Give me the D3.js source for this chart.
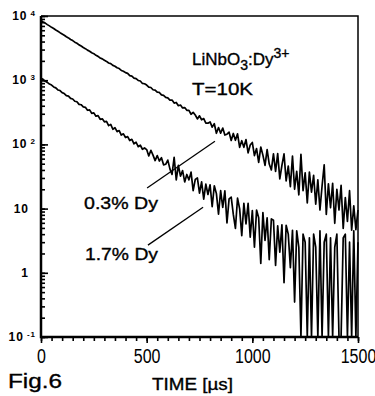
<!DOCTYPE html>
<html>
<head>
<meta charset="utf-8">
<script src="https://cdn.jsdelivr.net/npm/d3@7"></script>
<style>
  body { margin: 0; background: #fff; }
  text { font-family: Arial, "Liberation Sans", sans-serif; fill: #000; }
</style>
</head>
<body>
<svg id="chart" width="375" height="396"></svg>
<script>
// channel width of the decay curves, µs
const timeStep = 10;

// luminescence decay, counts per channel
const dy03 = [
  8510, 8090, 7750, 7340, 7020, 6660, 6390, 6050, 5790, 5500,
  5250, 5010, 4750, 4560, 4310, 4140, 3910, 3760, 3550, 3410,
  3230, 3100, 2940, 2830, 2680, 2590, 2440, 2350, 2220, 2150,
  2040, 1960, 1850, 1810, 1700, 1650, 1560, 1520, 1420, 1380,
  1310, 1280, 1180, 1160, 1080, 1060, 990, 970, 890, 880,
  840, 780, 770, 710, 700, 650, 645, 590, 580, 540,
  530, 490, 490, 440, 450, 400, 410, 370, 375, 340,
  339, 295, 315, 287, 249, 279, 242, 253, 215, 214,
  224, 186, 210, 149, 183, 150, 180, 140, 144, 155,
  115, 148, 116, 146, 90, 114, 90, 119, 74, 98,
  107, 67, 86, 52.5, 91, 68, 47, 83, 49.5, 40,
  71, 38, 72, 29, 47, 71, 27, 46, 22, 66,
  20, 38, 16.4, 70, 19, 36, 12.3, 37, 18, 33,
  11.7, 28, 9.5, 22.5, 48, 8.1, 24.4, 10.3, 24.7, 5.9,
  20, 9.5, 23, 4.9, 14.8, 6.3, 19, 4.6, 11, 4.7,
  9.5
];
const dy17 = [
  1070, 1030, 960, 925, 870, 840, 785, 760, 705, 690,
  640, 620, 575, 565, 520, 510, 470, 462, 420, 415,
  385, 378, 340, 345, 305, 310, 275, 280, 246, 250,
  225, 228, 196, 205, 172, 182, 158, 164, 140, 146,
  128, 132, 115, 120, 102, 108, 92, 97, 84, 88,
  83, 66, 81, 68, 56, 67, 55, 62, 48, 49,
  57, 41.5, 34, 63, 28, 47, 32, 39, 26, 34,
  28, 37, 19, 28.5, 30, 17.4, 26, 14, 24, 16.6,
  23.5, 10.7, 22.7, 17.1, 8.2, 19, 10.4, 18.9, 6, 14.2,
  15.1, 8.1, 4.9, 14.6, 9.9, 3.8, 12.1, 5.8, 12.1, 3.6,
  9.3, 2.5, 9.5, 7.2, 1.4, 8.7, 3.2, 7.2, 1.6, 6.9,
  6.6, 1.3, 5.4, 2.1, 5.6, 0.7, 5.5, 4, 1.2, 4.6,
  0.35, 4.5, 2.5, 0, 4, 3, 0, 3.5, 0, 4,
  2.5, 0, 4.5, 0, 3, 4, 0, 3.5, 0, 2.5,
  4, 0, 0, 3.5, 4, 0, 3, 0, 4.5, 0,
  3
];

const xTickValues = [0, 500, 1000, 1500];
const yDecades = [1e4, 1e3, 1e2, 10, 1, 0.1];
const yBase = ["10", "10", "10", "10", "1", "10"];
const yExp = ["4", "3", "2", "", "", "-1"];

// leader lines: [time µs, counts] pairs
const lead03 = [[502, 21], [823, 112]];
const lead17 = [[506, 2.7], [767, 10.5]];

const svg = d3.select("#chart");
const pl = 41, pr = 358, pt = 16, pb = 337;

const x = d3.scaleLinear().domain([0, 1500]).range([pl, pr]);
const y = d3.scaleLog().domain([0.1, 1e4]).range([pb, pt]);
const yFloor = y.domain()[0];

// minor y ticks (inside)
svg.append("g")
  .attr("transform", "translate(" + pl + ",0)")
  .call(d3.axisLeft(y).tickValues(y.ticks()).tickSize(-4).tickFormat(""))
  .call(g => g.select(".domain").remove())
  .selectAll("line").attr("stroke-width", 1.6);

svg.append("g")
  .attr("transform", "translate(" + pl + ",0)")
  .call(d3.axisLeft(y).tickValues(yDecades).tickSize(-7).tickFormat(""))
  .call(g => g.select(".domain").remove())
  .selectAll("line").attr("stroke-width", 1.6);

// x ticks (outside, every 50 µs)
svg.append("g")
  .attr("transform", "translate(0," + pb + ")")
  .call(d3.axisBottom(x).tickValues(d3.range(0, 1501, 50)).tickSize(4).tickFormat(""))
  .call(g => g.select(".domain").remove())
  .selectAll("line").attr("stroke-width", 1.6);

const xAxis = svg.append("g")
  .attr("transform", "translate(0," + pb + ")")
  .call(d3.axisBottom(x).tickValues(xTickValues).tickSize(6).tickPadding(6).tickFormat(d3.format("d")))
  .call(g => g.select(".domain").remove());
xAxis.selectAll("line").attr("stroke-width", 1.6);
xAxis.selectAll("text")
  .attr("font-size", 20)
  .attr("font-family", "Arial, 'Liberation Sans', sans-serif")
  .attr("dy", "0.72em")
  .attr("transform", "scale(0.8,1)");

// frame
svg.append("path")
  .attr("d", "M" + pl + "," + pt + "H" + pr + "V" + pb)
  .attr("fill", "none").attr("stroke", "#000").attr("stroke-width", 1.5);
svg.append("path")
  .attr("d", "M" + pl + "," + pt + "V" + pb + "H" + pr)
  .attr("fill", "none").attr("stroke", "#000").attr("stroke-width", 2.5);

// y labels
yDecades.forEach((d, i) => {
  const t = svg.append("text")
    .attr("x", yExp[i] ? 36 : 29)
    .attr("y", y(d) + 4)
    .attr("text-anchor", "end")
    .attr("font-size", 12)
    .attr("font-weight", "bold")
    .attr("letter-spacing", 1);
  t.append("tspan").text(yBase[i]);
  if (yExp[i]) {
    t.append("tspan").attr("dx", 3).attr("dy", -4).attr("font-size", 8).text(yExp[i]);
  }
});

// decay curves
const line = d3.line()
  .x((d, i) => x(i * timeStep))
  .y(d => y(Math.max(d, yFloor)));

[dy03, dy17].forEach(series => {
  svg.append("path")
    .datum(series)
    .attr("d", line)
    .attr("fill", "none")
    .attr("stroke", "#000")
    .attr("stroke-width", 1.7)
    .attr("stroke-linejoin", "round");
});

// leader lines
const lead = d3.line().x(d => x(d[0])).y(d => y(d[1]));
[lead03, lead17].forEach(l => {
  svg.append("path").attr("d", lead(l))
    .attr("stroke", "#000").attr("stroke-width", 1.3).attr("fill", "none");
});

// annotations
const label = (tx, ty, str, size, len) => {
  const t = svg.append("text").attr("x", tx).attr("y", ty)
    .attr("font-size", size).attr("stroke", "#000").attr("stroke-width", 0.35).text(str);
  if (len) t.attr("textLength", len).attr("lengthAdjust", "spacingAndGlyphs");
  return t;
};
label(84, 209, "0.3% Dy", 17, 74);
label(85, 260, "1.7% Dy", 17, 73);
label(192, 95, "T=10K", 17, 61);

const title = svg.append("text").attr("x", 192).attr("y", 65)
  .attr("font-size", 17).attr("stroke", "#000").attr("stroke-width", 0.35);
title.append("tspan").text("LiNbO");
title.append("tspan").attr("dy", 5).attr("font-size", 14).text("3");
title.append("tspan").attr("dy", -5).text(":Dy");
title.append("tspan").attr("dy", -7).attr("font-size", 14).text("3+");

label(8, 388, "Fig.6", 20, 54);
label(152, 390, "TIME [µs]", 17, 81);
</script>
</body>
</html>
